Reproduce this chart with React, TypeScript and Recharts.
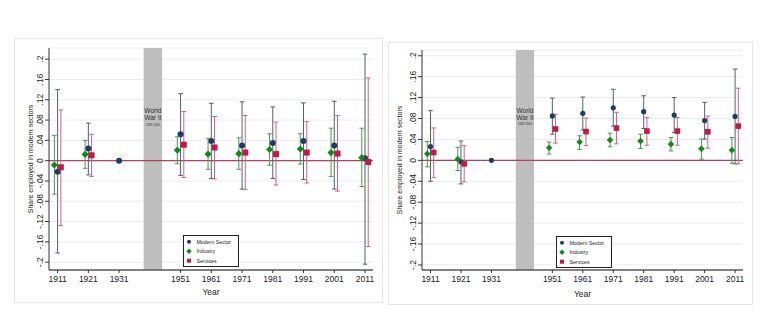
import React from "react";
import {
  ComposedChart,
  Scatter,
  ErrorBar,
  XAxis,
  YAxis,
  CartesianGrid,
  ReferenceLine,
  ReferenceArea,
  Legend,
} from "recharts";

const YEARS = [1911, 1921, 1931, 1951, 1961, 1971, 1981, 1991, 2001, 2011];
const X_TICKS = [1911, 1921, 1931, 1951, 1961, 1971, 1981, 1991, 2001, 2011];
const Y_TICKS = [-0.2, -0.16, -0.12, -0.08, -0.04, 0, 0.04, 0.08, 0.12, 0.16, 0.2];
const SERIES_NAMES = ["Modern Sector", "Industry", "Services"];
const WAR_START = 1939;
const WAR_END = 1945;

// left panel
const A_MODERN = [-0.022, 0.024, 0, 0.052, 0.039, 0.03, 0.035, 0.039, 0.03, 0.005];
const A_MODERN_LO = [-0.182, -0.028, 0, -0.029, -0.035, -0.056, -0.035, -0.037, -0.056, -0.204];
const A_MODERN_HI = [0.14, 0.074, 0, 0.132, 0.113, 0.116, 0.106, 0.114, 0.117, 0.21];
const A_INDUSTRY = [-0.0085, 0.0126, null, 0.0205, 0.013, 0.0138, 0.022, 0.023, 0.016, 0.006];
const A_INDUSTRY_LO = [-0.066, -0.015, null, -0.006, -0.017, -0.017, -0.009, -0.0065, -0.031, -0.051];
const A_INDUSTRY_HI = [0.05, 0.04, null, 0.047, 0.044, 0.045, 0.053, 0.053, 0.064, 0.064];
const A_SERVICES = [-0.013, 0.0106, null, 0.0315, 0.026, 0.016, 0.013, 0.016, 0.014, -0.0026];
const A_SERVICES_LO = [-0.128, -0.031, null, -0.033, -0.036, -0.057, -0.048, -0.044, -0.06, -0.169];
const A_SERVICES_HI = [0.1, 0.052, null, 0.097, 0.087, 0.089, 0.076, 0.077, 0.089, 0.163];

// right panel
const B_MODERN = [0.0265, -0.003, 0, 0.085, 0.09, 0.1005, 0.093, 0.0866, 0.076, 0.084];
const B_MODERN_LO = [-0.04, -0.045, 0, 0.05, 0.058, 0.0655, 0.061, 0.053, 0.0406, -0.0067];
const B_MODERN_HI = [0.095, 0.037, 0, 0.119, 0.121, 0.136, 0.1235, 0.12, 0.111, 0.1746];
const B_INDUSTRY = [0.0125, 0.0023, null, 0.024, 0.035, 0.039, 0.0368, 0.031, 0.022, 0.0195];
const B_INDUSTRY_LO = [-0.0125, -0.0195, null, 0.012, 0.021, 0.026, 0.0226, 0.018, 0.0023, -0.0054];
const B_INDUSTRY_HI = [0.036, 0.025, null, 0.035, 0.047, 0.052, 0.05, 0.0437, 0.0406, 0.0437];
const B_SERVICES = [0.015, -0.0067, null, 0.06, 0.055, 0.0617, 0.056, 0.056, 0.0546, 0.0655];
const B_SERVICES_LO = [-0.033, -0.041, null, 0.033, 0.028, 0.0316, 0.029, 0.029, 0.0234, -0.0067];
const B_SERVICES_HI = [0.062, 0.028, null, 0.088, 0.081, 0.092, 0.082, 0.082, 0.0847, 0.138];

const COLORS = {
  modern: "#1c3d66",
  modernCi: "#4f5f7d",
  industry: "#118a1a",
  industryCi: "#4a9a4a",
  services: "#c31a45",
  servicesCi: "#c96585",
  zero: "#b8405f",
  war: "#bebebe",
  grid: "#ececec",
  text: "#222",
};
const FONT = "'Liberation Sans', Arial, Helvetica, sans-serif";
const SHIFT = 1.05;
const X_DOMAIN: [number, number] = [1908.2, 2013.6];

type Row = { x: number; y: number; err: [number, number] };

function rows(values: (number | null)[], lo: (number | null)[], hi: (number | null)[], shift: number): Row[] {
  return YEARS.flatMap((year, i) => {
    const v = values[i];
    if (v == null) return [];
    return [{ x: year + shift, y: v, err: [v - (lo[i] as number), (hi[i] as number) - v] as [number, number] }];
  });
}

const fmtY = (v: number) => {
  if (Math.abs(v) < 1e-9) return "0";
  const s = Math.abs(v).toFixed(2).replace(/^0/, "").replace(/0$/, "");
  return (v < 0 ? "-" : "") + s;
};

const YTick = (props: any) => {
  const { x, y, payload } = props;
  return (
    <text
      x={x}
      y={y}
      transform={`rotate(-90, ${x}, ${y})`}
      textAnchor="middle"
      fontSize={8.5}
      fontFamily={FONT}
      fill={COLORS.text}
    >
      {fmtY(payload.value)}
    </text>
  );
};

const circle = (r: number, fill: string) => (p: any) => <circle cx={p.cx} cy={p.cy} r={r} fill={fill} />;
const diamond = (d: number, fill: string) => (p: any) => (
  <polygon points={`${p.cx},${p.cy - d} ${p.cx + d},${p.cy} ${p.cx},${p.cy + d} ${p.cx - d},${p.cy}`} fill={fill} />
);
const square = (s: number, fill: string) => (p: any) => (
  <rect x={p.cx - s} y={p.cy - s} width={2 * s} height={2 * s} fill={fill} />
);

function LegendBox() {
  return (
    <svg width={56} height={32} style={{ display: "block" }}>
      <rect x={0.5} y={0.5} width={55} height={31} fill="#fff" stroke="#222" />
      {SERIES_NAMES.map((name, i) => {
        const cy = 6.7 + i * 9.5;
        const cx = 6;
        return (
          <g key={name}>
            {i === 0 && <circle cx={cx} cy={cy} r={2} fill={COLORS.modern} />}
            {i === 1 && (
              <polygon points={`${cx},${cy - 2.7} ${cx + 2.7},${cy} ${cx},${cy + 2.7} ${cx - 2.7},${cy}`} fill={COLORS.industry} />
            )}
            {i === 2 && <rect x={cx - 2} y={cy - 2} width={4} height={4} fill={COLORS.services} />}
            <text x={13.4} y={cy} dominantBaseline="central" fontSize={5.3} fontFamily={FONT} fill={COLORS.text}>
              {name}
            </text>
          </g>
        );
      })}
    </svg>
  );
}

const WarLabel = (props: any) => {
  const { viewBox, dy } = props;
  if (!viewBox) return null;
  const cx = viewBox.x + viewBox.width / 2;
  const top = viewBox.y + dy;
  return (
    <g fontFamily={FONT} fill="#333" textAnchor="middle">
      <text x={cx} y={top} dominantBaseline="central" fontSize={6.6}>World</text>
      <text x={cx} y={top + 7.2} dominantBaseline="central" fontSize={6.6}>War II</text>
      <text x={cx} y={top + 14} dominantBaseline="central" fontSize={3}>1939-1945</text>
    </g>
  );
};

type PanelProps = {
  left: number;
  top: number;
  width: number;
  height: number;
  marginTop: number;
  yAxisWidth: number;
  xAxisHeight: number;
  yDomain: [number, number];
  modern: Row[];
  industry: Row[];
  services: Row[];
  marker: { r: number; d: number; s: number };
  warDy: number;
  titleX: number;
  legendAt: { left: number; top: number };
};

function Panel(p: PanelProps) {
  return (
    <div
      style={{
        position: "absolute",
        left: p.left,
        top: p.top,
        width: p.width,
        height: p.height,
        border: "1px solid #e6e6e6",
        boxSizing: "border-box",
        background: "#fff",
      }}
    >
      <div style={{ position: "absolute", left: -1, top: -1 }}>
        <ComposedChart
          width={p.width}
          height={p.height}
          margin={{ top: p.marginTop, right: 10, bottom: 0, left: 0 }}
        >
          <CartesianGrid horizontal vertical={false} stroke={COLORS.grid} strokeWidth={1} />
          <XAxis
            type="number"
            dataKey="x"
            domain={X_DOMAIN}
            ticks={X_TICKS}
            interval={0}
            allowDataOverflow
            height={p.xAxisHeight}
            tickSize={3}
            tickMargin={3}
            tick={{ fontSize: 8.5, fill: COLORS.text, fontFamily: FONT }}
            stroke="#5a5a5a"
            axisLine={{ stroke: "#5a5a5a", strokeWidth: 1.6 }}
            tickLine={{ stroke: "#333" }}
            label={{ value: "Year", position: "insideBottom", offset: 8, fontSize: 8.5, fill: COLORS.text, fontFamily: FONT }}
          />
          <YAxis
            type="number"
            dataKey="y"
            domain={p.yDomain}
            ticks={Y_TICKS}
            interval={0}
            allowDataOverflow
            width={p.yAxisWidth}
            tickSize={4}
            tickMargin={2}
            tick={<YTick />}
            axisLine={{ stroke: "#333" }}
            tickLine={{ stroke: "#333" }}
            label={(lp: any) => {
              const vb = lp.viewBox;
              if (!vb) return null;
              const x = p.titleX;
              const y = vb.y + vb.height / 2;
              return (
                <text
                  x={x}
                  y={y}
                  transform={`rotate(-90, ${x}, ${y})`}
                  textAnchor="middle"
                  fontSize={7}
                  fontFamily={FONT}
                  fill={COLORS.text}
                >
                  Share employed in modern sectors
                </text>
              );
            }}
          />
          <ReferenceArea
            x1={WAR_START}
            x2={WAR_END}
            fill={COLORS.war}
            fillOpacity={1}
            stroke="none"
            label={<WarLabel dy={p.warDy} />}
          />
          <ReferenceLine y={0} stroke={COLORS.zero} strokeWidth={1.2} />
          <Legend
            layout="horizontal"
            verticalAlign="middle"
            align="center"
            content={() => <LegendBox />}
            wrapperStyle={{ left: p.legendAt.left, top: p.legendAt.top, width: 56, height: 32 }}
          />
          <Scatter
            name={SERIES_NAMES[0]}
            data={p.modern}
            shape={circle(p.marker.r, COLORS.modern)}
            isAnimationActive={false}
          >
            <ErrorBar dataKey="err" direction="y" width={2.3} stroke={COLORS.modernCi} strokeWidth={1} isAnimationActive={false} />
          </Scatter>
          <Scatter
            name={SERIES_NAMES[1]}
            data={p.industry}
            shape={diamond(p.marker.d, COLORS.industry)}
            isAnimationActive={false}
          >
            <ErrorBar dataKey="err" direction="y" width={2.3} stroke={COLORS.industryCi} strokeWidth={1} isAnimationActive={false} />
          </Scatter>
          <Scatter
            name={SERIES_NAMES[2]}
            data={p.services}
            shape={square(p.marker.s, COLORS.services)}
            isAnimationActive={false}
          >
            <ErrorBar dataKey="err" direction="y" width={2.3} stroke={COLORS.servicesCi} strokeWidth={1} isAnimationActive={false} />
          </Scatter>
        </ComposedChart>
      </div>
    </div>
  );
}

export default function App() {
  return (
    <div style={{ position: "absolute", left: 0, top: 0, width: 767, height: 331, background: "#fff", fontFamily: FONT }}>
      <Panel
        left={14}
        top={38}
        width={369}
        height={265}
        marginTop={10}
        yAxisWidth={35}
        xAxisHeight={33}
        yDomain={[-0.2154, 0.222]}
        modern={rows(A_MODERN, A_MODERN_LO, A_MODERN_HI, 0)}
        industry={rows(A_INDUSTRY, A_INDUSTRY_LO, A_INDUSTRY_HI, -SHIFT)}
        services={rows(A_SERVICES, A_SERVICES_LO, A_SERVICES_HI, SHIFT)}
        marker={{ r: 3, d: 3.6, s: 3 }}
        warDy={62.5}
        titleX={19}
        legendAt={{ left: 169, top: 197 }}
      />
      <Panel
        left={388}
        top={42}
        width={365}
        height={263}
        marginTop={8}
        yAxisWidth={34}
        xAxisHeight={35}
        yDomain={[-0.2096, 0.211]}
        modern={rows(B_MODERN, B_MODERN_LO, B_MODERN_HI, 0)}
        industry={rows(B_INDUSTRY, B_INDUSTRY_LO, B_INDUSTRY_HI, -SHIFT)}
        services={rows(B_SERVICES, B_SERVICES_LO, B_SERVICES_HI, SHIFT)}
        marker={{ r: 2.6, d: 3.3, s: 2.8 }}
        warDy={60}
        titleX={13.5}
        legendAt={{ left: 168, top: 194 }}
      />
    </div>
  );
}
